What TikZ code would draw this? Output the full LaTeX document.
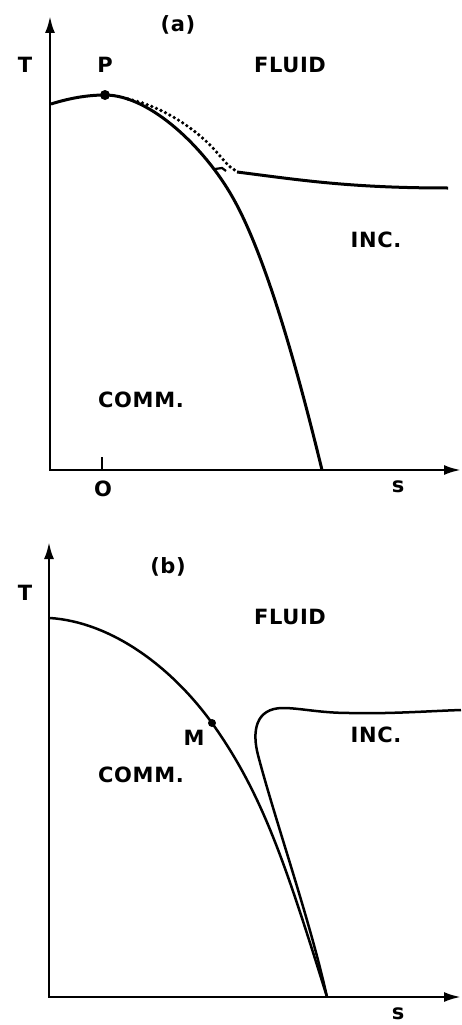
\documentclass[tikz,border=0pt]{standalone}
\usepackage{fontspec}
\newfontfamily\diagfont{DejaVu Sans}[LetterSpace=3]
\usetikzlibrary{arrows.meta}
\tikzset{
  axis/.style={-{Latex[length=17pt,width=10pt]}, line width=2.6pt},
  phase/.style={line width=3pt, line join=round},
  phasethin/.style={line width=2.5pt, line join=round},
  dotted line/.style={line width=3.6pt, line cap=round, dash pattern=on 0pt off 5pt},
  lbl/.style={font=\diagfont\bfseries\fontsize{21}{24}\selectfont, inner sep=0pt},
  spot/.style={circle, fill, inner sep=0pt, minimum size=#1}
}
\begin{document}
\begin{tikzpicture}[x=1pt,y=-1pt]
  \useasboundingbox (0,0) rectangle (461,1025);

  % Panel (a): axes.
  \coordinate (aorig) at (50,470);
  \coordinate (aleft) at (49,470);
  \coordinate (atop) at (50,16);
  \coordinate (aend) at (461,470);
  \coordinate (tickbot) at (102,470);
  \coordinate (ticktop) at (102,457);
  \draw[axis] (aorig) -- (atop);
  \draw[axis] (aleft) -- (aend);
  \draw[line width=2.2pt] (tickbot) -- (ticktop);

  % Panel (a): phase boundaries.
  \draw[phase] (51,104) .. controls (70,98) and (88,95) .. (105,95)
    .. controls (150,95) and (205,148) .. (233,198)
    .. controls (267,258) and (299.5,377.5) .. (322,470);
  \draw[dotted line] (128,99) .. controls (160,106) and (190,125) .. (210,145)
    .. controls (222,157) and (228,168) .. (237,171);
  \draw[line width=2.2pt] (215,169) -- (222,168) -- (226,171);
  \draw[phase] (237,172) .. controls (300,180) and (350,188) .. (448,188);
  \node[spot=10pt] (ptP) at (105,95) {};

  % Panel (a): labels.
  \node[lbl] (ta) at (25,65) {T};
  \node[lbl] (capa) at (178,25) {(a)};
  \node[lbl] (pP) at (105,65) {P};
  \node[lbl] (fluida) at (290,65) {FLUID};
  \node[lbl] (inca) at (376,240) {INC.};
  \node[lbl] (comma) at (141,400) {COMM.};
  \node[lbl] (zero) at (103,489) {O};
  \node[lbl] (sa) at (398,487) {s};

  % Panel (b): axes.
  \coordinate (borig) at (49,997);
  \coordinate (bleft) at (48,997);
  \coordinate (btop) at (49,542);
  \coordinate (bend) at (461,997);
  \draw[axis] (borig) -- (btop);
  \draw[axis] (bleft) -- (bend);

  % Panel (b): phase boundaries.
  \draw[phasethin] (50,618) .. controls (110,622) and (170,665) .. (212,723)
    .. controls (262,793) and (285,862) .. (327,997);
  \draw[phasethin] (327,997) .. controls (310,920) and (275,820) .. (258,755)
    .. controls (252,732) and (255,708) .. (283,708)
    .. controls (300,708) and (320,713) .. (350,713)
    .. controls (390,714) and (430,711) .. (461,710);
  \node[spot=8pt] (ptM) at (212,723) {};

  % Panel (b): labels.
  \node[lbl] (tb) at (25,593) {T};
  \node[lbl] (capb) at (168,567) {(b)};
  \node[lbl] (fluidb) at (290,617) {FLUID};
  \node[lbl] (lm) at (194,738) {M};
  \node[lbl] (incb) at (376,735) {INC.};
  \node[lbl] (commb) at (141,775) {COMM.};
  \node[lbl] (sb) at (398,1014) {s};
\end{tikzpicture}
\end{document}
